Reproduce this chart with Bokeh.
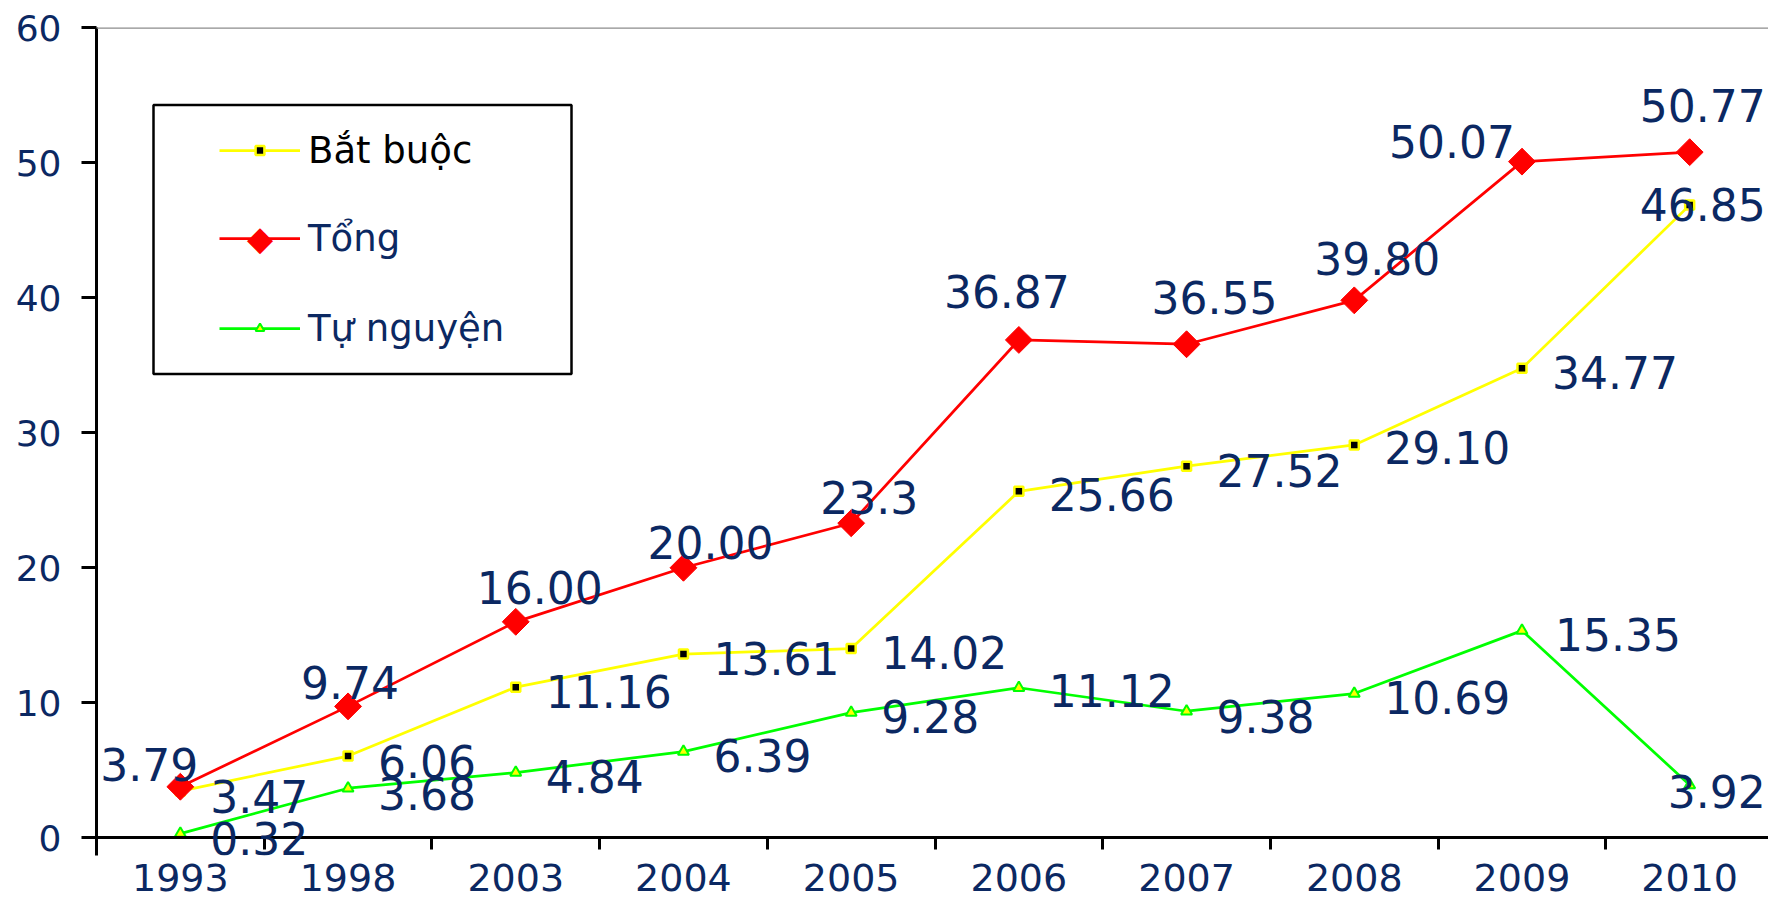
import math
from bokeh.plotting import figure
from bokeh.models import (Range1d, FixedTicker, LinearAxis, Legend, LegendItem,
                          BoxAnnotation, Span, ColumnDataSource, Label)
from bokeh.embed import file_html
from bokeh.resources import INLINE

# ---------------- data ----------------
years = ["1993", "1998", "2003", "2004", "2005", "2006", "2007", "2008", "2009", "2010"]
bat_buoc = [3.47, 6.06, 11.16, 13.61, 14.02, 25.66, 27.52, 29.10, 34.77, 46.85]
tong = [3.79, 9.74, 16.00, 20.00, 23.3, 36.87, 36.55, 39.80, 50.07, 50.77]
tu_nguyen = [0.32, 3.68, 4.84, 6.39, 9.28, 11.12, 9.38, 10.69, 15.35, 3.92]

bat_buoc_labels = ["3.47", "6.06", "11.16", "13.61", "14.02", "25.66", "27.52", "29.10", "34.77", "46.85"]
tong_labels = ["3.79", "9.74", "16.00", "20.00", "23.3", "36.87", "36.55", "39.80", "50.07", "50.77"]
tu_nguyen_labels = ["0.32", "3.68", "4.84", "6.39", "9.28", "11.12", "9.38", "10.69", "15.35", "3.92"]

series_names = ["Bắt buộc", "Tổng", "Tự nguyện"]
y_ticks = [0, 10, 20, 30, 40, 50, 60]

# label placement offsets in screen pixels (x right, y up)
tong_dx = [-31, 2, 24, 27, 18, -12, 28, 23, -70, 13]
tong_dy = [22, 24, 34, 25, 26, 48, 47, 42, 20, 47]
bb_dx = [30, 30, 30, 30, 30, 30, 30, 30, 30, -50]
bb_dy = [-5, -5, -4, -4, -4, -3, -4, -3, -4, 1]
tn_dx = [30, 30, 30, 30, 30, 30, 30, 30, 33, -22]
tn_dy = [-5, -5, -4, -4, -4, -3, -5, -4, -4, -7]

NAVY = "#0b2862"
FONT = "DejaVu Sans"

idx = list(range(len(years)))

# the frame reaches a little below 0 so that the "0.32" label is not clipped;
# the category axis itself is pinned at y = 0
p = figure(width=1768, height=908,
           x_range=Range1d(-0.5, 9.47), y_range=Range1d(-1.3, 60),
           x_axis_type=None, y_axis_type=None,
           output_backend="svg", toolbar_location=None,
           min_border_left=96, min_border_right=0,
           min_border_top=27, min_border_bottom=53)
p.outline_line_color = None
p.background_fill_color = "white"
p.border_fill_color = "white"

# y axis
yaxis = LinearAxis(ticker=FixedTicker(ticks=y_ticks, minor_ticks=[]))
yaxis.axis_line_color = "black"
yaxis.axis_line_width = 3
yaxis.major_tick_line_color = "black"
yaxis.major_tick_line_width = 3
yaxis.major_tick_out = 15
yaxis.major_tick_in = 0
yaxis.minor_tick_line_color = None
yaxis.major_label_standoff = 20
yaxis.major_label_text_font = FONT
yaxis.major_label_text_font_size = "36px"
yaxis.major_label_text_color = NAVY
p.add_layout(yaxis, "left")

# x axis line + boundary ticks, pinned at y = 0
xline = LinearAxis(ticker=FixedTicker(ticks=idx, minor_ticks=[i - 0.5 for i in idx]),
                   fixed_location=0)
xline.axis_line_color = "black"
xline.axis_line_width = 3
xline.major_tick_line_color = None
xline.major_tick_out = 0
xline.major_tick_in = 0
xline.minor_tick_line_color = "black"
xline.minor_tick_line_width = 3
xline.minor_tick_out = 12
xline.minor_tick_in = 0
xline.major_label_text_color = None
xline.major_label_text_font_size = "1px"
p.add_layout(xline, "below")

# x category labels
xlab = LinearAxis(ticker=FixedTicker(ticks=idx, minor_ticks=[]))
xlab.major_label_overrides = {i: y for i, y in zip(idx, years)}
xlab.axis_line_color = None
xlab.major_tick_line_color = None
xlab.minor_tick_line_color = None
xlab.major_tick_out = 0
xlab.major_tick_in = 0
xlab.major_label_standoff = 8
xlab.major_label_text_font = FONT
xlab.major_label_text_font_size = "38px"
xlab.major_label_text_color = NAVY
p.add_layout(xlab, "below")

p.add_layout(Span(location=60, dimension="width", line_color="#8c8c8c", line_width=2.5))

# decorative beige strip at the far left (slide background)
p.add_layout(BoxAnnotation(left=0, right=8, top=0, bottom=908,
                           left_units="canvas", right_units="canvas",
                           top_units="canvas", bottom_units="canvas",
                           fill_color="#e9dfc2", fill_alpha=1.0, line_color=None))

# series
src_bb = ColumnDataSource(dict(x=idx, y=bat_buoc))
src_t = ColumnDataSource(dict(x=idx, y=tong))
src_tn = ColumnDataSource(dict(x=idx, y=tu_nguyen))

tn_line = p.line("x", "y", source=src_tn, line_color="#00ff00", line_width=2.75)
tn_pts = p.scatter("x", "y", source=src_tn, marker="triangle", size=11,
                   line_color="#00ff00", line_width=2, fill_color="#ffff00")
bb_line = p.line("x", "y", source=src_bb, line_color="#ffff00", line_width=2.75)
bb_pts = p.scatter("x", "y", source=src_bb, marker="square", size=9,
                   line_color="#ffff00", line_width=2.5, fill_color="black")
t_line = p.line("x", "y", source=src_t, line_color="#ff0000", line_width=2.75)
t_pts = p.scatter("x", "y", source=src_t, marker="square", angle=math.pi / 4, size=19,
                  line_color="#ff0000", fill_color="#ff0000")

# data labels
def add_labels(vals, texts, dxs, dys, align):
    for i, v, t, dx, dy in zip(idx, vals, texts, dxs, dys):
        p.add_layout(Label(x=i, y=v, text=t, x_offset=dx, y_offset=dy,
                           text_font=FONT, text_font_size="44px", text_color=NAVY,
                           text_align=align, text_baseline="middle"))

add_labels(tu_nguyen, tu_nguyen_labels, tn_dx, tn_dy, "left")
add_labels(bat_buoc, bat_buoc_labels, bb_dx, bb_dy, "left")
add_labels(tong, tong_labels, tong_dx, tong_dy, "center")

# legend frame (screen units, relative to the plot frame's bottom-left corner)
box = BoxAnnotation(left=57, right=475, bottom=481.5, top=750.5,
                    left_units="screen", right_units="screen",
                    top_units="screen", bottom_units="screen",
                    fill_color="white", fill_alpha=1.0,
                    line_color="black", line_width=2.5, line_alpha=1.0)
p.add_layout(box)

leg_common = dict(orientation="vertical", padding=0, margin=0,
                  glyph_width=81, glyph_height=22, label_height=43, label_standoff=8,
                  label_text_font=FONT, label_text_font_size="37px",
                  border_line_color=None, background_fill_alpha=0.0)
legend1 = Legend(items=[LegendItem(label=series_names[0], renderers=[bb_line, bb_pts])],
                 location=(123, 683.5), spacing=0, label_text_color="black", **leg_common)
legend2 = Legend(items=[LegendItem(label=series_names[1], renderers=[t_line]),
                        LegendItem(label=series_names[2], renderers=[tn_line, tn_pts])],
                 location=(123, 505.5), spacing=47, label_text_color=NAVY, **leg_common)
p.add_layout(legend1)
p.add_layout(legend2)

# diamond symbol of the "Tổng" legend entry
p.add_layout(Label(x=163.5, y=617.5, x_units="screen", y_units="screen", text="◆",
                   text_font=FONT, text_font_size="34px", text_color="#ff0000",
                   text_align="center", text_baseline="middle"))

open("out.html", "w").write(file_html(p, INLINE))
